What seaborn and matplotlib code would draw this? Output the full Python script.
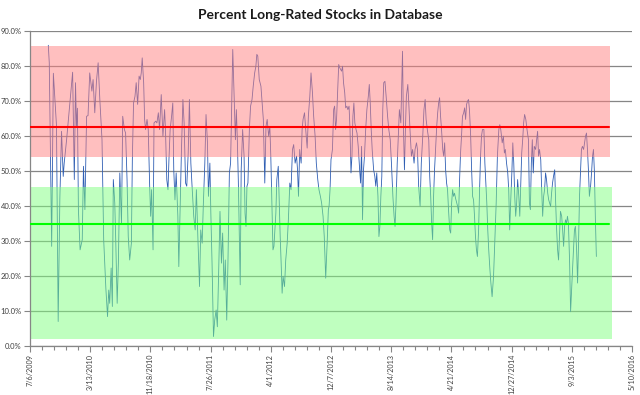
import matplotlib
matplotlib.use("Agg")
import matplotlib.pyplot as plt
import matplotlib.dates as mdates
import seaborn as sns
import pandas as pd

# days since 7/6/2009 and percent of long-rated stocks
START = pd.Timestamp("2009-07-06")

days_a = [76, 80, 90, 97, 104, 110, 117, 124, 131, 138,
          142, 152, 163, 177, 184, 189, 193, 197, 201, 208,
          217, 222, 228, 235, 241, 248, 257, 262, 269, 276,
          283, 290, 299, 306, 315, 322, 327, 331, 337, 342,
          346, 352, 356, 362, 367, 373, 380, 385, 392, 397,
          403, 408]
pct_a = [86, 81, 28.5, 78, 70, 63, 7, 42.3, 61.4, 48.5,
         52.3, 59, 67.6, 78.3, 47.6, 75.3, 62.8, 68, 39, 27.5,
         30.4, 51.4, 39, 65.7, 65.9, 78.1, 72.9, 76.2, 66.7, 75.7,
         81, 70.5, 59, 30.4, 16.5, 8.4, 16, 12.2, 22.3, 11.3,
         47.6, 40.9, 30.4, 12.2, 23.7, 49.5, 35.1, 65.7, 61.9, 60.9,
         47.6, 31.3]

days_b = [414, 421, 425, 430, 436, 441, 447, 453, 458, 462,
          466, 472, 476, 480, 486, 491, 497, 501, 505, 511,
          515, 522, 527, 533, 538, 545, 552, 559, 563, 568,
          573, 577, 582, 588, 593, 597, 602, 607, 614, 618,
          624, 629, 635, 640, 646, 651, 657, 662, 668, 673,
          680, 686, 691, 697, 704, 709, 715, 720, 726, 731,
          737, 741, 747, 751, 756, 762, 767, 773, 778, 784,
          789, 795, 800, 806, 811, 817, 822]
pct_b = [24.6, 29.4, 53.3, 69.5, 71.4, 75.3, 69.1, 77.2, 76.2, 78.1,
         82.4, 75.3, 64.8, 61.9, 64.8, 61.9, 45.7, 37.1, 44.7, 27.5,
         63.8, 64.3, 63.8, 66.7, 61.9, 71.9, 60, 67.6, 60.9, 47.6,
         44.7, 53.3, 61.9, 65.7, 69.5, 50.4, 41.8, 49.5, 37.1, 22.7,
         40.9, 56.2, 70.5, 63.8, 46.6, 45.7, 55.2, 70.5, 52.3, 45.7,
         37.1, 33.2, 44.7, 31.3, 17, 33.2, 29.4, 40.9, 52.3, 66.2,
         58.1, 42.8, 52.3, 38, 23.7, 2.7, 7.4, 10.3, 5.5, 22.7,
         38.5, 23.7, 32.3, 16, 24.6, 7.4, 23.7]

days_c = [828, 833, 842, 849, 853, 857, 861, 865, 869, 873,
          877, 883, 889, 893, 897, 901, 905, 911, 916, 922,
          927, 933, 938, 942, 946, 952, 959, 963, 969, 973,
          975, 980, 985, 991, 996, 1000, 1004, 1009, 1013, 1017,
          1021, 1025, 1031, 1035, 1039, 1043, 1047, 1051, 1057, 1062,
          1068, 1073, 1079, 1084, 1090, 1095, 1101, 1107, 1111, 1115,
          1120, 1126, 1130, 1134, 1140, 1145, 1151, 1156, 1162, 1167,
          1173, 1178, 1184, 1189, 1195, 1200, 1206, 1211, 1217, 1222,
          1228, 1234, 1239]
pct_c = [49.5, 52.3, 84.8, 68.6, 59, 67.6, 59, 47.6, 33.2, 17.5,
         50.4, 61.9, 54.3, 38, 34.2, 45.7, 46.6, 61.9, 68.6, 70.5,
         74.3, 78.1, 80, 83.4, 82.9, 76.2, 74.3, 70.5, 64.8, 52.3,
         46.6, 62.8, 64.8, 60, 62.8, 54.3, 42.8, 27.5, 28.5, 33.2,
         38, 47.6, 51.4, 40.9, 31.3, 23.7, 15.1, 19.9, 17, 24.6,
         29.4, 36.1, 46.6, 44.7, 56.2, 57.6, 52.3, 54.3, 50.4, 42.8,
         56.2, 52.3, 61.9, 64.8, 66.7, 61.9, 56.6, 65.7, 71.4, 78.1,
         72.4, 65.7, 60, 52.3, 47.6, 44.7, 42.8, 40.9, 37.1, 31.3,
         19.4, 29.4, 39]

days_d = [1242, 1246, 1250, 1256, 1261, 1265, 1269, 1273, 1278, 1282,
          1286, 1290, 1294, 1298, 1302, 1307, 1311, 1316, 1320, 1325,
          1329, 1333, 1337, 1341, 1345, 1349, 1354, 1358, 1363, 1369,
          1373, 1377, 1381, 1385, 1389, 1394, 1399, 1405, 1409, 1413,
          1417, 1421, 1427, 1432, 1436, 1440, 1445, 1449, 1453, 1457,
          1461, 1465, 1469, 1474, 1479, 1485, 1490, 1496, 1501, 1507,
          1512, 1516, 1520, 1525, 1529, 1534, 1540, 1547, 1551, 1555,
          1559, 1563, 1569, 1573, 1578, 1584, 1589, 1595, 1599, 1605,
          1609, 1614, 1620, 1625, 1631, 1636, 1641, 1645, 1650]
pct_d = [40, 44.7, 53.3, 56.2, 67.6, 68.6, 61.9, 64.8, 73.4, 80.5,
         79.6, 79.1, 78.6, 80, 75.3, 72.4, 68.1, 68.6, 67.6, 68.6,
         61.9, 49.5, 54.3, 65.7, 69.5, 63.8, 61.9, 60.9, 57.1, 50.4,
         46.6, 57.1, 36.1, 50.4, 54.3, 61.9, 67.6, 71.4, 74.8, 69.5,
         61.9, 56.2, 50.4, 48.5, 45.7, 49.5, 42.8, 31.3, 34.2, 42.8,
         48.5, 67.6, 75.3, 75.7, 71.4, 65.7, 61.9, 59, 52.3, 42.8,
         37.1, 34.2, 40.9, 52.3, 59, 67.6, 63.8, 84.3, 61.9, 50.4,
         61.9, 71.4, 74.8, 69.5, 61.9, 54.3, 56.2, 52.3, 56.2, 58.1,
         56.2, 45.7, 40, 52.3, 60, 67.6, 70.5, 64.8, 61.9]

days_e = [1656, 1660, 1664, 1668, 1672, 1676, 1680, 1685, 1689, 1693,
          1697, 1701, 1705, 1709, 1714, 1718, 1722, 1726, 1730, 1734,
          1738, 1743, 1747, 1751, 1755, 1759, 1763, 1767, 1772, 1776,
          1780, 1784, 1788, 1792, 1796, 1801, 1805, 1809, 1813, 1817,
          1821, 1825, 1830, 1834, 1838, 1842, 1846, 1850, 1854, 1858,
          1863, 1867, 1871, 1875, 1879, 1885, 1889, 1893, 1897, 1901,
          1905, 1910, 1914, 1919, 1925, 1930, 1936, 1941, 1947, 1951,
          1955, 1961, 1966, 1970, 1974, 1979, 1984, 1988, 1992, 1996,
          2001, 2005, 2009, 2013, 2017, 2021, 2025, 2030, 2034, 2038,
          2042, 2046, 2050, 2054, 2059, 2064]
pct_e = [59, 48.5, 42.8, 35.1, 30.4, 42.8, 50.4, 57.1, 62.8, 66.7,
         69.5, 71, 65.7, 61.9, 56.2, 54.3, 58.1, 50.4, 46.6, 44.7,
         39, 33.2, 32.3, 40.9, 44.7, 42.8, 43.7, 42.3, 40.9, 39.9,
         38, 47.6, 55.2, 60, 65.7, 66.7, 68.1, 64.8, 69.1, 70,
         70.5, 67.6, 60, 50.4, 42.8, 41.8, 37.1, 31.3, 27.5, 25.6,
         33.2, 44.7, 54.3, 60, 61.9, 61.9, 52.3, 46.6, 40.9, 33.2,
         27.5, 21.8, 18, 14.1, 19.9, 29.4, 40.9, 54.3, 61.9, 63.3,
         61.9, 58.1, 60, 55.2, 56.2, 52.3, 49.5, 44.7, 33.2, 40.9,
         49.5, 58.1, 52.3, 42.8, 37.1, 40.9, 47.6, 42.8, 37.1, 45.7,
         55.2, 59, 63.8, 66.2, 64.8, 61.9]

days_f = [2070, 2074, 2078, 2082, 2086, 2090, 2094, 2100, 2104, 2108,
          2112, 2116, 2121, 2125, 2129, 2133, 2137, 2141, 2145, 2150,
          2154, 2158, 2162, 2166, 2170, 2174, 2179, 2183, 2187, 2191,
          2195, 2199, 2203, 2208, 2212, 2216, 2220, 2224, 2228, 2232,
          2236, 2241, 2245, 2249, 2253, 2257, 2261, 2265, 2270, 2274,
          2278, 2282, 2286, 2290, 2294, 2299, 2303, 2307, 2311, 2315,
          2319, 2323, 2328, 2332, 2336, 2340, 2344, 2348, 2352]
pct_f = [59, 40.9, 39, 52.3, 59, 49.5, 57.1, 56.2, 59, 61.4,
         54.3, 56.2, 53.3, 44.7, 37.1, 42.8, 44.7, 49.5, 47.6, 43.7,
         41.8, 40.9, 39.9, 43.7, 46.6, 48.5, 50.4, 40.9, 33.2, 27.5,
         24.6, 31.3, 38.5, 37.1, 33.2, 28.5, 34.2, 36.1, 35.1, 37.1,
         35.1, 23.7, 9.8, 16, 21.8, 27.5, 33.2, 34.2, 27.5, 18,
         29.4, 42.8, 49.5, 56.2, 57.1, 56.2, 58.1, 60, 60.9, 56.2,
         50.4, 42.8, 45.7, 49.5, 54.3, 56.2, 49.5, 36.1, 25.6]

days = days_a + days_b + days_c + days_d + days_e + days_f
pct = pct_a + pct_b + pct_c + pct_d + pct_e + pct_f
assert len(days) == len(pct)

# bands and reference lines
red_band = (54.1, 85.8)
green_band = (1.9, 45.5)
red_level = 62.5
green_level = 35.0
red_band_end = 2409
green_band_end = 2417
level_end = 2405

df = pd.DataFrame({"date": START + pd.to_timedelta(days, unit="D"), "pct": pct})

sns.set_theme(style="white")
plt.rcParams["font.family"] = ["Lato", "DejaVu Sans"]

fig = plt.figure(figsize=(6.4, 3.95), dpi=100)
ax = fig.add_axes([30 / 640, 1 - 346 / 395, 602 / 640, (346 - 31.3) / 395])

sns.lineplot(data=df, x="date", y="pct", ax=ax, color="#2F5EB3",
             linewidth=0.6, estimator=None, sort=False, zorder=1)

d0 = mdates.date2num(START)
ax.fill_between([d0, d0 + red_band_end], *red_band, color=(1, 0.5, 0.5),
                alpha=0.5, lw=0, zorder=2)
ax.fill_between([d0, d0 + green_band_end], *green_band, color=(0.5, 1, 0.5),
                alpha=0.5, lw=0, zorder=2)
ax.plot([d0, d0 + level_end], [red_level] * 2, color="#FF0000", lw=1.5, zorder=3)
ax.plot([d0, d0 + level_end], [green_level] * 2, color="#00FF00", lw=1.5, zorder=3)

ax.set_xlim(d0, d0 + 2500)
ax.set_ylim(0, 90)

major = [d0 + 250 * i for i in range(11)]
ax.set_xticks(major)
labels = []
for m in major:
    d = mdates.num2date(m)
    labels.append(f"{d.month}/{d.day}/{d.year}")
ax.set_xticklabels(labels, rotation=90, fontsize=5.2, color="#404040")
ax.set_xticks([d0 + 50 * i for i in range(51)], minor=True)

yt = list(range(0, 91, 10))
ax.set_yticks(yt)
ax.set_yticklabels([f"{v:.1f}%" for v in yt], fontsize=5.5, color="#404040")

ax.set_axisbelow(True)
ax.yaxis.grid(True, color="#868686", lw=0.9)
ax.xaxis.grid(False)
for s in ["top", "right"]:
    ax.spines[s].set_visible(False)
for s in ["left", "bottom"]:
    ax.spines[s].set_color("#868686")
    ax.spines[s].set_linewidth(0.9)
ax.tick_params(axis="both", which="both", direction="out", color="#868686",
               width=0.8, pad=2, bottom=True, left=True)
ax.tick_params(axis="x", which="major", length=4, pad=1.5)
ax.tick_params(axis="x", which="minor", length=3)
ax.tick_params(axis="y", length=4)
ax.set_xlabel("")
ax.set_ylabel("")

fig.text(0.5, 1 - 15 / 395, "Percent Long-Rated Stocks in Database",
         ha="center", va="center", fontsize=10, fontweight="bold", color="#1a1a1a")

fig.savefig("out.png", dpi=100)
